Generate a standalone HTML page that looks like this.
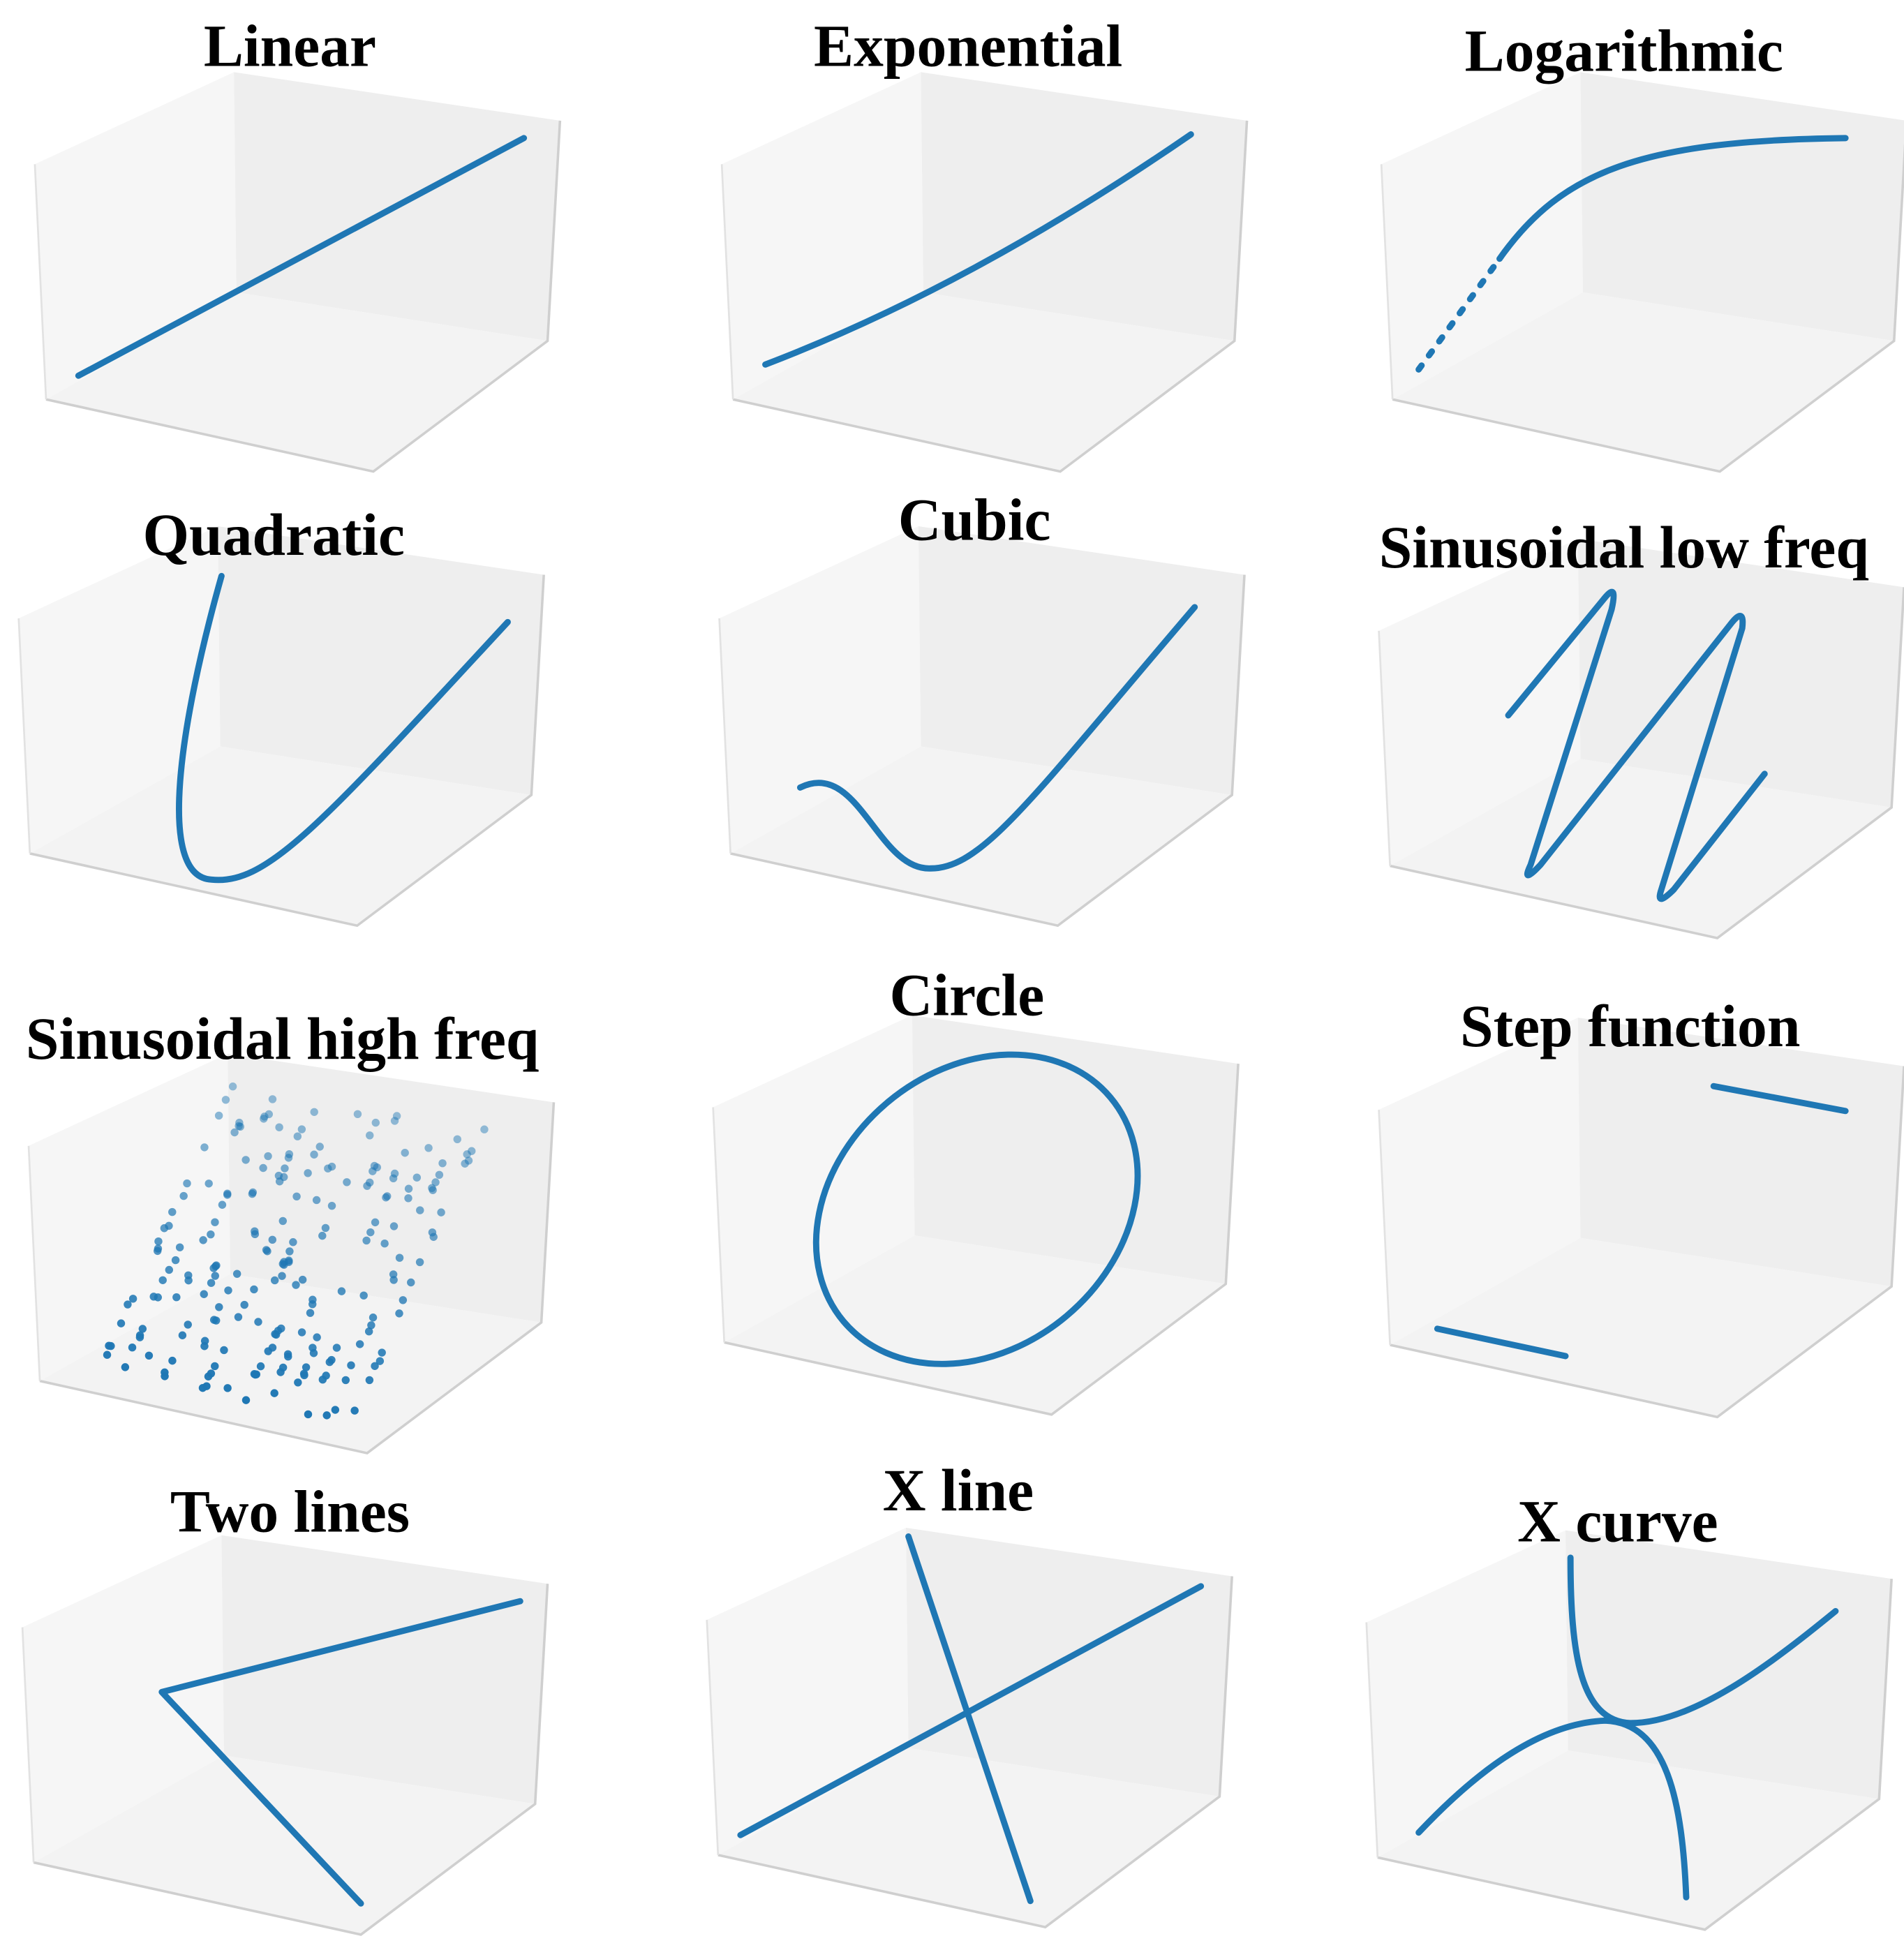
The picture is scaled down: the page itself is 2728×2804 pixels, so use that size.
<!DOCTYPE html>
<html><head><meta charset="utf-8">
<style>
html,body{margin:0;padding:0;background:#fff;}
svg{display:block;}
text{font-family:"Liberation Serif",serif;font-weight:bold;font-size:48px;fill:#000;text-anchor:middle;}
.c{fill:none;stroke:#1f77b4;stroke-width:5;stroke-linecap:round;stroke-linejoin:round;}
</style></head><body>
<svg width="2728" height="2804" viewBox="0 0 1530 1573" preserveAspectRatio="none" xmlns="http://www.w3.org/2000/svg">
<defs>
<g id="box">
  <polygon points="28,132 188,58 190,235 37,321" fill="#f6f6f6"/>
  <polygon points="188,58 450,97 440,274 190,235" fill="#eeeeee"/>
  <polygon points="37,321 190,235 440,274 300,379" fill="#f3f3f3"/>
  <polyline points="37,321 300,379 440,274 450,97" fill="none" stroke="#cfcfcf" stroke-width="2"/>
  <line x1="28" y1="132" x2="37" y2="321" stroke="#e2e2e2" stroke-width="1.5"/>
</g>
</defs>
<use href="#box" x="0" y="0"/>
<use href="#box" x="552" y="0"/>
<use href="#box" x="1082" y="0"/>
<use href="#box" x="-13" y="365"/>
<use href="#box" x="550" y="365"/>
<use href="#box" x="1080" y="375"/>
<use href="#box" x="-5" y="789"/>
<use href="#box" x="545" y="758"/>
<use href="#box" x="1080" y="760"/>
<use href="#box" x="-10" y="1176"/>
<use href="#box" x="540" y="1170"/>
<use href="#box" x="1070" y="1172"/>

<text x="233" y="53">Linear</text>
<text x="778" y="53">Exponential</text>
<text x="1305" y="57">Logarithmic</text>
<text x="220" y="446">Quadratic</text>
<text x="783" y="434">Cubic</text>
<text x="1305" y="456">Sinusoidal low freq</text>
<text x="227" y="851">Sinusoidal high freq</text>
<text x="777" y="816">Circle</text>
<text x="1310" y="841">Step function</text>
<text x="233" y="1231">Two lines</text>
<text x="770" y="1214">X  line</text>
<text x="1300" y="1239">X  curve</text>

<path class="c" d="M63,302 L421,111"/>
<path class="c" d="M615,293 Q780,230 957,108"/>
<path class="c" d="M1140,297 L1205,208" stroke-dasharray="4 10"/>
<path class="c" d="M1205,208 C1255,137 1320,113 1483,111"/>
<path class="c" d="M178,463 C145,580 125,705 170,707 C215,712 260,660 408,500"/>
<path class="c" d="M643,633 C690,610 705,700 748,698 C790,698 830,640 960,488"/>
<path class="c" d="M1212,575 L1290,480 Q1300,468 1295,490 L1230,695 Q1222,712 1238,695 L1392,500 Q1402,488 1400,505 L1335,715 Q1330,730 1345,715 L1418,622"/>
<g id="hf" fill="#1f77b4"></g>
<ellipse class="c" cx="785" cy="972" rx="140" ry="112" transform="rotate(-40 785 972)"/>
<path class="c" d="M1377,873 L1483,893 M1155,1068 L1258,1090"/>
<path class="c" d="M418,1287 L130,1360 L290,1530"/>
<path class="c" d="M965,1275 L595,1475 M730,1235 L828,1528"/>
<path class="c" d="M1262,1252 C1262,1330 1270,1383 1310,1385 C1360,1385 1420,1340 1475,1295"/>
<path class="c" d="M1140,1473 C1190,1420 1240,1385 1290,1383 C1340,1385 1352,1450 1355,1525"/>
</svg>
<script>
(function(){
var g=document.getElementById('hf'),s='';
var seed=7;function r(){seed=(seed*9301+49297)%233280;return seed/233280;}
for(var i=0;i<13;i++){
  var t=i/12;
  var bx=80+t*200, by=1100+t*45;
  var tx=190+t*198, ty=870+t*35;
  for(var k=0;k<22;k++){
    var u=r();
    if(r()<0.2)continue;
    var x=bx+(tx-bx)*u+(r()-0.5)*5, y=by+(ty-by)*u;
    s+='<circle cx="'+x.toFixed(1)+'" cy="'+y.toFixed(1)+'" r="3.2" opacity="'+(0.45+0.55*(1-u)).toFixed(2)+'"/>';
  }
}
g.innerHTML=s;
})();
</script>
</body></html>
